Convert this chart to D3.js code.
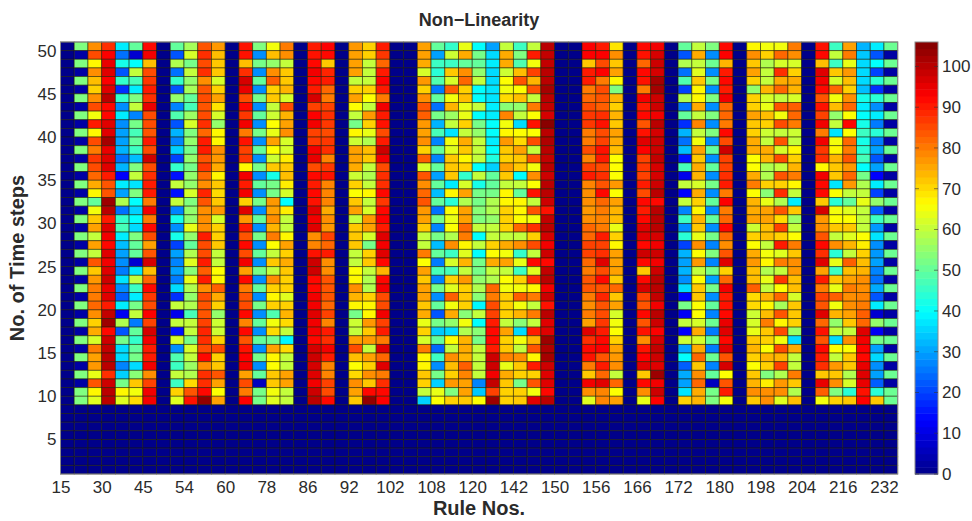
<!DOCTYPE html>
<html>
<head>
<meta charset="utf-8">
<script src="https://cdn.jsdelivr.net/npm/d3@7"></script>
<style>
  html, body { margin: 0; padding: 0; background: #fff; }
  text { font-family: "Liberation Sans", Arial, sans-serif; fill: #2b2b2b; }
  .soft { filter: blur(0.45px); }
</style>
</head>
<body>
<svg id="chart" width="972" height="521"></svg>
<script>
// tick labels
const ruleLabels = [15, 30, 45, 54, 60, 78, 86, 92, 102, 108, 120, 142, 150, 156, 166, 172, 180, 198, 204, 216, 232];
const stepTicks = [5, 10, 15, 20, 25, 30, 35, 40, 45, 50];
const barTicks = [0, 10, 20, 30, 40, 50, 60, 70, 80, 90, 100];

// time steps 1 to 8 are 0 for every rule
const lowSteps = [0, 0, 0, 0, 0, 0, 0, 0];

// each column lists steps 50 down to 9
const blank = [0,0,0,0,0,0,0,0,0,0,0,0,0,0,0,0,0,0,0,0,0,0,0,0,0,0,0,0,0,0,0,0,0,0,0,0,0,0,0,0,0,0];
const col02 = [53,3,53,3,53,3,53,3,53,3,53,3,53,3,53,3,53,3,53,3,53, 3,53,3,53,3,53,3,53,3,53,3,53,3,53,3,53,3,53,3,53,53];
const col03 = [78,85,67,78,73,71,78,85,65,90,67,85,80,87,85,82,75,67,50,65,72, 76,60,76,60,84,72,77,80,80,82,78,71,75,62,80,76,77,64,84,67,63];
const col04 = [88,93,95,96,93,96,100,92,92,96,96,102,95,96,96,90,84,84,103,100,90, 96,94,92,96,94,96,98,95,96,90,99,103,92,98,99,100,100,88,98,100,100];
const col05 = [38,25,42,22,45,18,45,28,38,28,30,30,32,25,32,13,38,30,58,25,45, 47,38,33,30,28,26,37,28,23,38,12,58,22,52,36,36,27,35,52,67,63];
const col06 = [50,8,40,60,47,38,53,60,27,52,47,50,46,33,53,60,37,53,40,35,40, 36,53,50,50,8,37,60,46,38,52,60,26,50,45,50,52,36,54,72,65,70];
const col07 = [92,94,73,85,87,90,88,95,85,85,84,90,85,98,85,88,90,90,80,94,80, 92,85,76,84,97,73,82,92,87,85,93,86,97,94,90,90,94,78,86,94,94];
const col09 = [50,22,58,25,45,22,55,27,48,22,32,27,35,20,45,15,60,15,60,27,42, 28,42,20,30,27,30,26,36,18,60,11,60,15,62,28,48,46,60,46,71,63];
const col10 = [57,62,52,60,55,57,50,47,56,62,53,55,52,55,52,55,55,62,53,55,55, 64,55,50,58,63,54,64,58,55,58,47,60,60,52,62,60,56,58,70,84,91];
const col11 = [84,88,85,88,78,84,85,84,85,88,82,90,90,84,87,82,78,89,84,78,78, 78,90,85,85,90,83,90,78,85,84,84,86,89,88,85,92,78,88,88,92,104];
const col12 = [77,73,72,72,62,71,76,69,62,55,67,67,78,77,75,67,72,70,72,77,62, 71,71,72,60,60,66,67,83,75,71,55,61,61,71,85,71,72,84,76,66,76];
const col14 = [91,91,73,88,97,95,85,92,87,94,80,91,86,87,67,94,90,94,71,96,77, 90,84,92,85,94,76,92,80,84,85,92,79,92,84,91,93,94,76,85,80,93];
const col15 = [53,28,52,28,50,28,52,28,50,28,52,28,50,28,52,28,50,28,52,28,50, 28,52,28,50,28,52,28,50,28,52,28,50,28,50,28,52,28,50,6,52,52];
const col16 = [65,73,55,78,83,71,72,60,61,66,64,76,66,61,72,42,52,52,77,76,78, 74,80,66,60,72,60,78,71,67,71,48,65,70,52,76,67,66,72,72,65,63];
const col17 = [80,78,60,72,72,74,62,85,74,76,78,62,62,68,72,73,68,62,40,68,60, 60,67,76,71,75,72,71,71,63,71,74,70,60,39,70,60,60,76,76,60,60];
const col19 = [90,91,92,94,92,90,97,86,93,94,86,87,94,95,85,92,90,92,91,96,94, 96,78,79,91,98,98,92,92,94,94,96,94,94,92,97,98,97,96,94,98,100];
const col20 = [93,92,72,89,90,82,80,86,88,87,85,87,88,79,87,91,79,79,79,75,78, 77,86,82,90,78,78,84,84,84,82,86,79,90,88,94,90,79,79,86,85,92];
const col22 = [77,76,76,76,60,71,76,66,60,52,67,61,76,76,75,61,71,66,72,76,60, 72,72,72,60,60,66,67,78,74,67,52,61,60,76,85,73,66,70,78,76,72];
const col23 = [71,71,60,60,60,71,66,60,77,71,64,58,73,72,60,58,60,67,60,62,77, 76,62,52,71,72,60,58,58,71,67,67,77,72,77,60,76,71,78,72,92,104];
const col24 = [90,87,82,90,93,90,80,94,90,91,85,90,98,94,85,88,88,92,87,92,93, 90,96,94,96,92,74,92,94,85,85,94,86,90,80,96,82,96,80,88,92,93];
const col27 = [76,76,75,62,77,71,78,84,83,77,76,78,71,83,62,84,78,82,84,77,76, 72,60,60,80,66,76,72,76,76,72,75,64,71,62,80,67,67,72,71,60,35];
const col28 = [50,30,46,44,48,26,50,25,52,32,47,27,50,27,50,30,50,33,50,25,52, 27,52,33,50,26,47,27,52,28,50,22,52,34,50,24,46,28,52,35,64,66];
const col29 = [45,61,46,72,62,83,65,74,56,60,37,65,63,72,72,72,38,67,44,66,64, 66,58,78,46,62,47,71,63,83,65,75,55,36,66,60,78,73,71,77,53,71];
const col30 = [64,75,50,78,82,71,73,64,64,71,60,75,72,67,71,45,62,76,58,76,76, 82,80,67,63,74,60,77,71,72,71,54,65,58,74,75,74,83,79,76,76,72];
const col31 = [40,52,50,55,60,40,40,60,40,52,55,60,60,60,40,60,42,52,52,54,53, 60,40,60,40,52,52,55,58,54,39,60,40,54,52,60,60,60,60,27,34,66];
const col32 = [30,36,38,36,36,37,37,38,38,40,40,38,40,43,35,50,50,52,58,58,55, 60,60,71,66,75,60,58,82,80,85,86,90,92,92,90,98,98,94,99,86,103];
const col33 = [60,75,75,61,66,65,70,54,79,65,67,77,72,71,76,72,60,67,67,71,71, 71,60,75,65,76,60,66,65,71,71,71,60,76,71,72,79,64,75,72,71,71];
const col34 = [46,53,48,73,84,66,73,55,60,36,66,70,76,72,72,40,60,50,67,67,66, 82,60,78,45,64,46,71,65,83,65,74,54,36,65,60,78,72,71,52,71,72];
const col35 = [60,90,65,86,74,84,60,80,66,91,66,85,60,84,65,78,66,91,60,84,65, 88,71,85,60,92,63,88,67,80,60,80,60,90,74,84,67,90,71,84,65,96];
const col36 = [100,99,99,100,100,102,100,99,97,105,100,101,100,99,100,98,100,100,98,91,99, 100,97,94,98,92,99,100,94,98,91,100,96,96,103,101,102,98,96,96,92,100];
const col39 = [93,93,72,90,90,80,82,85,87,87,80,80,85,79,86,90,79,78,78,77,78, 82,82,86,86,82,80,84,84,80,78,80,76,96,88,92,91,80,72,94,78,63];
const col40 = [90,93,85,93,80,85,84,83,88,91,85,86,91,90,85,88,84,92,82,80,79, 80,90,86,88,96,85,92,84,89,84,85,87,90,92,93,84,90,82,96,79,79];
const col41 = [69,78,72,76,67,53,74,71,74,72,76,75,73,66,66,66,77,66,76,74,73, 64,71,67,76,76,76,72,82,72,76,62,65,66,71,76,77,78,60,82,66,76];
const col43 = [92,91,82,92,91,80,94,90,92,84,91,96,93,86,87,86,90,85,92,90,92, 96,96,92,98,92,72,92,97,86,84,92,84,91,78,91,93,96,72,92,78,64];
const col44 = [94,97,98,97,102,102,98,98,94,100,97,98,98,99,97,97,98,100,92,100,100, 100,97,94,98,94,98,100,100,99,94,100,98,93,97,99,98,96,103,94,98,93];
const col46 = [50,22,58,25,48,20,58,25,50,18,32,25,33,15,47,11,60,13,60,27,46, 28,44,20,32,30,32,28,36,13,52,12,60,13,61,30,40,23,31,30,37,71];
const col47 = [60,75,60,63,72,67,67,75,60,79,60,65,76,72,75,74,62,75,71,67,74, 72,64,78,66,77,60,66,72,72,66,66,62,75,62,75,82,72,78,82,75,74];
const col48 = [53,28,51,28,52,28,53,28,53,28,53,28,50,28,50,28,52,28,50,28,50, 28,52,27,53,27,52,30,52,28,50,27,51,26,50,26,51,27,50,6,52,53];
const col49 = [92,93,74,90,92,90,94,82,82,80,92,85,98,86,86,88,90,80,93,80,82, 92,82,78,84,96,71,82,94,90,91,92,95,96,92,96,84,97,66,84,90,65];
const col51 = [67,78,72,76,71,55,71,71,76,72,71,75,75,66,66,75,80,66,74,75,76, 61,71,66,75,77,73,73,83,70,70,61,62,64,72,74,71,66,72,74,78,72];
const col52 = [65,71,58,60,60,74,62,64,73,71,61,60,75,74,58,58,71,54,64,76,76, 73,73,60,65,67,58,64,60,74,67,73,80,72,71,66,74,71,53,68,78,78];
const col53 = [65,82,62,88,75,82,60,84,65,85,60,84,62,85,60,84,71,88,58,84,70, 86,71,90,63,80,60,87,66,82,57,84,67,85,65,85,74,86,58,77,78,63];
const col54 = [80,78,62,71,75,74,62,83,82,80,61,60,67,71,74,80,67,60,38,72,56, 60,66,80,72,78,77,73,73,62,72,72,71,56,36,75,60,60,80,72,58,73];
const col56 = [91,92,73,96,94,92,84,91,86,94,80,94,87,88,67,94,92,92,72,97,77, 78,84,92,88,96,76,90,80,86,84,96,82,91,84,92,90,88,72,95,83,65];
const col57 = [46,60,46,72,62,82,65,73,55,60,37,65,67,74,72,72,37,66,44,65,66, 72,60,78,44,64,46,72,64,83,65,74,55,60,36,66,60,77,72,78,53,71];
const col58 = [76,80,64,77,73,71,78,82,66,92,66,82,80,84,77,82,77,60,50,63,66, 72,63,74,60,83,73,76,80,78,78,76,72,60,78,66,72,72,58,62,44,72];
const col59 = [32,34,36,36,36,33,42,38,40,42,46,42,44,47,40,52,58,60,64,60,60, 60,66,68,71,73,74,78,78,79,80,83,82,96,94,93,92,95,96,95,91,93];
const col60 = [38,22,40,20,44,18,44,28,38,26,44,26,30,22,30,13,38,20,55,23,46, 29,37,28,29,30,27,25,31,22,38,8,55,12,52,30,36,28,30,23,44,72];
const col61 = [51,3,51,3,51,3,51,3,51,3,51,3,51,3,51,3,51,3,51,3,51, 3,51,3,51,3,51,3,51,3,51,3,51,3,51,3,51,3,51,3,51,51];

const columns = [blank, col02, col03, col04, col05, col06, col07, blank, col09, col10,
  col11, col12, blank, col14, col15, col16, col17, blank, col19, col20,
  blank, col22, col23, col24, blank, blank, col27, col28, col29, col30,
  col31, col32, col33, col34, col35, col36, blank, blank, col39, col40,
  col41, blank, col43, col44, blank, col46, col47, col48, col49, blank,
  col51, col52, col53, col54, blank, col56, col57, col58, col59, col60, col61];

const svg = d3.select("#chart");

// plot box
const plotLeft = 60.5, plotRight = 897.7, plotTop = 42, plotBottom = 474;

const x = d3.scaleLinear().domain([0, columns.length]).range([plotLeft, plotRight]);
const y = d3.scaleLinear().domain([1, 51]).range([plotBottom, plotTop]);

// jet colormap
const jet = d3.scaleLinear()
  .domain([0, 0.125, 0.375, 0.625, 0.875, 1].map(d => d * 106))
  .range(["#00008a", "#0000ff", "#00ffff", "#ffff00", "#ff0000", "#800000"])
  .clamp(true);

// cells
const cells = svg.append("g").attr("class", "soft");
columns.forEach((col, i) => {
  // bottom steps last so step index matches the row
  const values = col.concat(lowSteps);
  values.forEach((v, r) => {
    const step = 50 - r;
    cells.append("rect")
      .attr("x", x(i))
      .attr("y", y(step + 1))
      .attr("width", x(i + 1) - x(i))
      .attr("height", y(step) - y(step + 1))
      .attr("fill", jet(v))
      .attr("stroke", "#1a1a00")
      .attr("stroke-opacity", 0.6)
      .attr("stroke-width", 0.9);
  });
});

// box round the plot
svg.append("rect")
  .attr("x", plotLeft).attr("y", plotTop)
  .attr("width", plotRight - plotLeft).attr("height", plotBottom - plotTop)
  .attr("fill", "none").attr("stroke", "#8a8a8a").attr("stroke-width", 1);

// x axis
const xAxis = svg.append("g")
  .attr("transform", `translate(0, ${plotBottom})`)
  .call(d3.axisBottom(x)
    .tickValues(ruleLabels.map((d, i) => i * 3))
    .tickFormat((d, i) => ruleLabels[i])
    .tickSize(0)
    .tickPadding(7));
xAxis.select(".domain").remove();
xAxis.selectAll("text").style("font-size", "17px");

// y axis
const yAxis = svg.append("g")
  .attr("transform", `translate(${plotLeft}, 0)`)
  .call(d3.axisLeft(y).tickValues(stepTicks).tickSize(0).tickPadding(4));
yAxis.select(".domain").remove();
yAxis.selectAll("text").style("font-size", "17px");

// titles
svg.append("text")
  .attr("x", 479).attr("y", 26)
  .attr("text-anchor", "middle")
  .style("font-size", "18px").style("font-weight", "bold")
  .text("Non\u2212Linearity");
svg.append("text")
  .attr("x", 479).attr("y", 515)
  .attr("text-anchor", "middle")
  .style("font-size", "20px").style("font-weight", "bold")
  .text("Rule Nos.");
svg.append("text")
  .attr("transform", "translate(24, 258) rotate(-90)")
  .attr("text-anchor", "middle")
  .style("font-size", "20px").style("font-weight", "bold")
  .text("No. of Time steps");

// colorbar
const barLeft = 915, barRight = 938;
const barScale = d3.scaleLinear().domain([0, 106]).range([plotBottom, plotTop]);
const levels = d3.range(64);
svg.append("g").attr("class", "soft").selectAll("rect")
  .data(levels)
  .enter()
  .append("rect")
    .attr("x", barLeft)
    .attr("y", d => barScale((d + 1) / 64 * 106))
    .attr("width", barRight - barLeft)
    .attr("height", (plotBottom - plotTop) / 64 + 0.5)
    .attr("fill", d => jet((d + 0.5) / 64 * 106));
svg.append("rect")
  .attr("x", barLeft).attr("y", plotTop)
  .attr("width", barRight - barLeft).attr("height", plotBottom - plotTop)
  .attr("fill", "none").attr("stroke", "#8a8a8a").attr("stroke-width", 1);

const barAxis = svg.append("g")
  .attr("transform", `translate(${barRight}, 0)`)
  .call(d3.axisRight(barScale).tickValues(barTicks).tickSize(0).tickPadding(4));
barAxis.select(".domain").remove();
barAxis.selectAll("text").style("font-size", "17px");

// small ticks inside the colorbar
const barMarks = svg.append("g").selectAll("line").data(barTicks).enter();
barMarks.append("line")
  .attr("x1", barLeft).attr("x2", barLeft + 4)
  .attr("y1", d => barScale(d)).attr("y2", d => barScale(d))
  .attr("stroke", "#333").attr("stroke-opacity", 0.6);
barMarks.append("line")
  .attr("x1", barRight - 4).attr("x2", barRight)
  .attr("y1", d => barScale(d)).attr("y2", d => barScale(d))
  .attr("stroke", "#333").attr("stroke-opacity", 0.6);
</script>
</body>
</html>
